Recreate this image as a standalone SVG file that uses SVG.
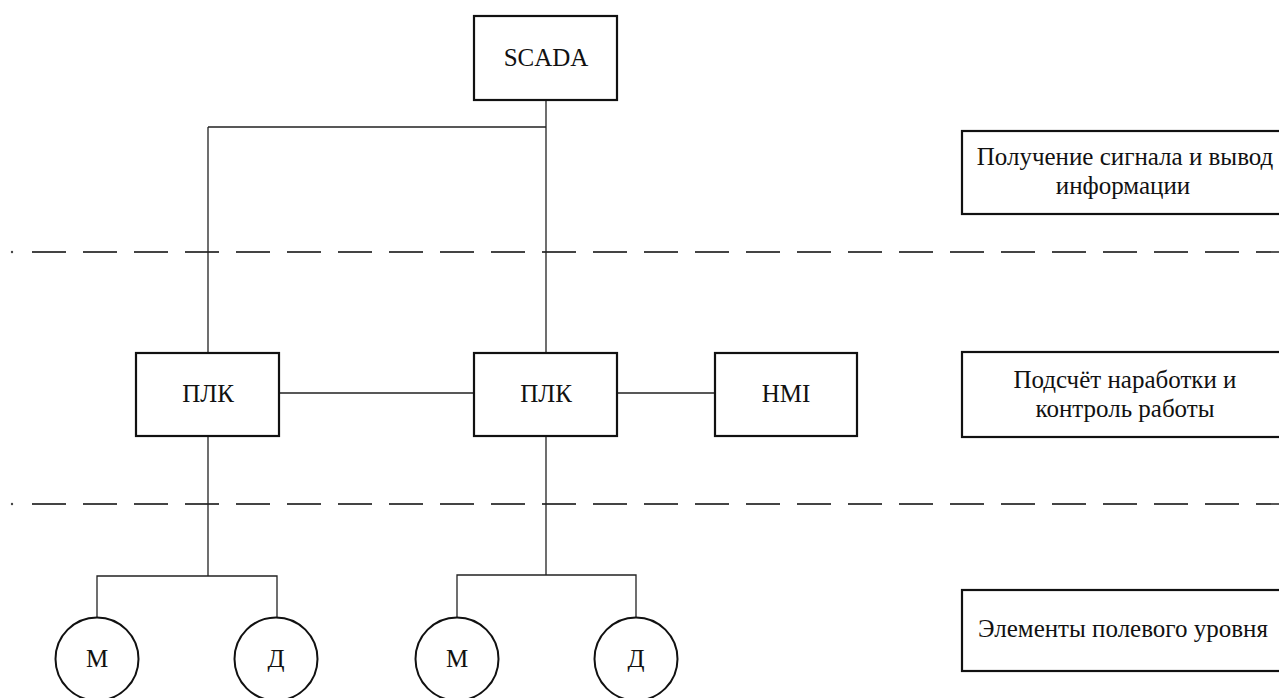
<svg xmlns="http://www.w3.org/2000/svg" width="1279" height="698" viewBox="0 0 1279 698">
<style>
.box{fill:#fff;stroke:#111;stroke-width:2.2}
.lbl{fill:#fff;stroke:#111;stroke-width:2.2}
.circ{fill:#fff;stroke:#111;stroke-width:2}
.wire{fill:none;stroke:#222;stroke-width:1.3}
.dash{fill:none;stroke:#444;stroke-width:1.8;stroke-dasharray:34 17}
text{font-family:'Liberation Serif','Times New Roman',serif;font-size:25px;fill:#111;text-anchor:middle}
</style>
<rect width="1279" height="698" fill="#fff"/>
<g id="separators">
<circle cx="12" cy="252" r="1.2" fill="#444"/>
<line class="dash" x1="32" y1="252" x2="1279" y2="252"/>
<circle cx="12" cy="504" r="1.2" fill="#444"/>
<line class="dash" x1="32" y1="504" x2="1279" y2="504"/>
</g>
<g id="connectors">
<path class="wire" d="M546 100 V353 M208 127 H546 M208 127 V353"/>
<path class="wire" d="M279 393 H474 M617 393 H715"/>
<path class="wire" d="M208 436 V576 M97 618 V576 H277 V618"/>
<path class="wire" d="M546 436 V575 M457 618 V575 H636 V618"/>
</g>
<g id="scada"><rect class="box" x="474" y="16" width="143" height="84"/><text x="546" y="66">SCADA</text></g>
<g id="plc1"><rect class="box" x="136" y="353" width="143" height="83"/><text x="208" y="402">ПЛК</text></g>
<g id="plc2"><rect class="box" x="474" y="353" width="143" height="83"/><text x="546" y="402">ПЛК</text></g>
<g id="hmi"><rect class="box" x="715" y="353" width="142" height="83"/><text x="786" y="402">HMI</text></g>
<g id="m1"><circle class="circ" cx="97" cy="659" r="41.5"/><text x="97" y="667">М</text></g>
<g id="d1"><circle class="circ" cx="276" cy="659" r="41.5"/><text x="276" y="667">Д</text></g>
<g id="m2"><circle class="circ" cx="457" cy="659" r="41.5"/><text x="457" y="667">М</text></g>
<g id="d2"><circle class="circ" cx="636" cy="659" r="41.5"/><text x="636" y="667">Д</text></g>
<g id="level-top"><rect class="lbl" x="962" y="131" width="326" height="83"/><text x="1125" y="165">Получение сигнала и вывод</text><text x="1123" y="194">информации</text></g>
<g id="level-mid"><rect class="lbl" x="962" y="352" width="326" height="85"/><text x="1125" y="388">Подсчёт наработки и</text><text x="1125" y="417">контроль работы</text></g>
<g id="level-bottom"><rect class="lbl" x="962" y="590" width="326" height="81"/><text x="1123" y="637">Элементы полевого уровня</text></g>
</svg>
